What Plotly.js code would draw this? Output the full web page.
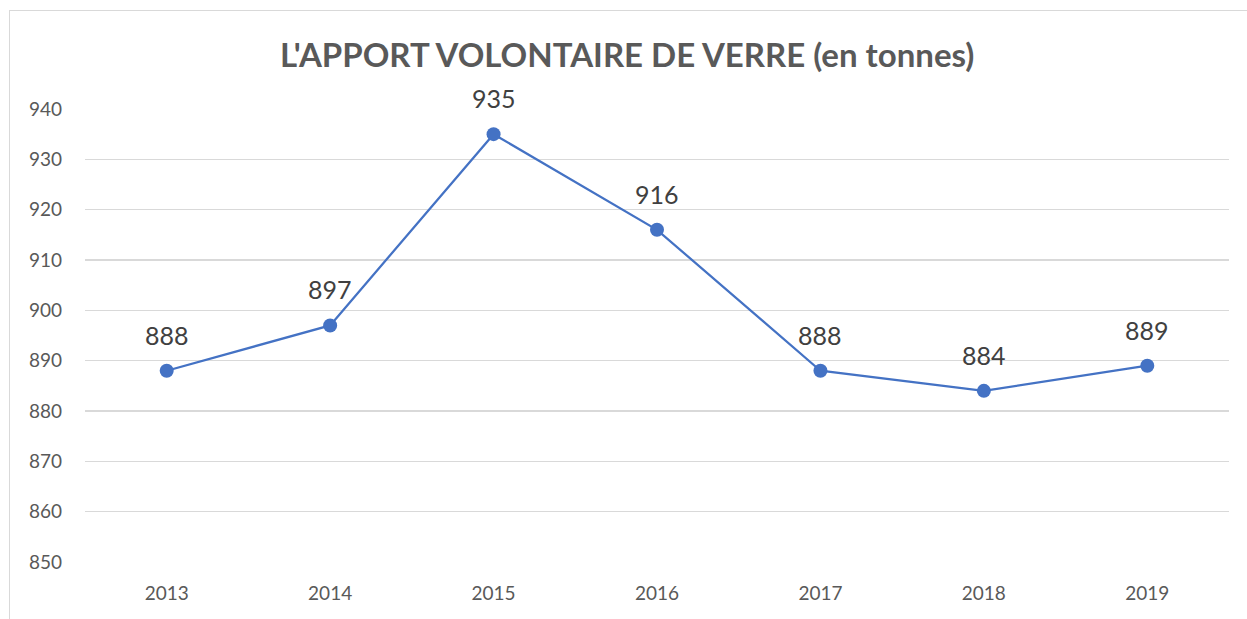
<!DOCTYPE html>
<html>
<head>
<meta charset="utf-8">
<script src="https://cdn.plot.ly/plotly-3.0.1.min.js"></script>
<style>
html,body{margin:0;padding:0;background:#fff;}
#chart{width:1247px;height:619px;position:absolute;left:0;top:0;}
#frame{position:absolute;left:9px;top:10px;width:1250px;height:620px;border-left:1px solid #d9d9d9;border-top:1px solid #d9d9d9;pointer-events:none;}
</style>
</head>
<body>
<div id="chart"></div>
<div id="frame"></div>
<script>
const years = ['2013','2014','2015','2016','2017','2018','2019'];
const tonnes = [888, 897, 935, 916, 888, 884, 889];
const yTicks = [850, 860, 870, 880, 890, 900, 910, 920, 930, 940];
const chartTitle = "L'APPORT VOLONTAIRE DE VERRE (en tonnes)";

const FONT = 'Lato, "Liberation Sans", sans-serif';

const trace = {
  x: years,
  y: tonnes,
  type: 'scatter',
  mode: 'lines+markers',
  line: {color: '#4472C4', width: 2.25},
  marker: {color: '#4472C4', size: 14},
  hoverinfo: 'x+y',
  showlegend: false
};

const annotations = years.map((yr, i) => ({
  x: i, y: tonnes[i], xref: 'x', yref: 'y',
  text: String(tonnes[i]), showarrow: false,
  yshift: 36,
  font: {family: FONT, size: 25, color: '#404040'}
}));

const layout = {
  width: 1247, height: 619,
  margin: {l: 85, r: 18, t: 109, b: 57},
  paper_bgcolor: 'rgba(0,0,0,0)',
  plot_bgcolor: 'rgba(0,0,0,0)',
  title: {
    text: '<b>' + chartTitle + '</b>',
    x: 0.503, xanchor: 'center', y: 0.911, yanchor: 'middle',
    font: {family: FONT, size: 33, color: '#595959'}
  },
  xaxis: {
    type: 'category',
    categoryorder: 'array', categoryarray: years,
    range: [-0.5, years.length - 0.5],
    autorange: false,
    showgrid: false, zeroline: false, showline: false,
    ticks: '', ticklabelstandoff: 18,
    tickfont: {family: FONT, size: 19, color: '#595959'},
    fixedrange: true
  },
  yaxis: {
    range: [850, 940],
    autorange: false,
    tickvals: yTicks,
    showgrid: true, gridcolor: '#d9d9d9', gridwidth: 1.3,
    zeroline: false, showline: false,
    ticks: '', ticklabelstandoff: 22,
    tickfont: {family: FONT, size: 19, color: '#595959'},
    fixedrange: true
  },
  annotations: annotations
};

Plotly.newPlot('chart', [trace], layout, {displayModeBar: false, staticPlot: true});
</script>
</body>
</html>
